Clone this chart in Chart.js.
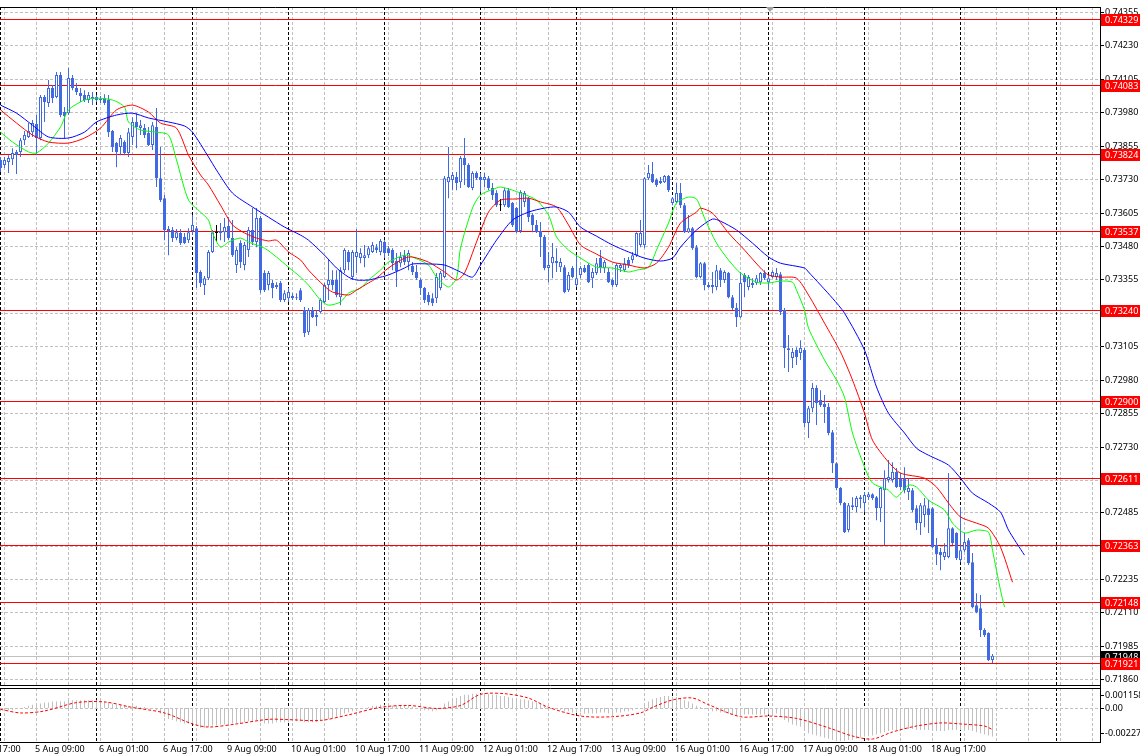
<!DOCTYPE html>
<html>
<head>
<meta charset="utf-8">
<script src="https://cdn.jsdelivr.net/npm/chart.js@4.4.1/dist/chart.umd.min.js"></script>
<style>
  html, body { margin: 0; padding: 0; background: #fff; }
  #wrap { position: relative; width: 1140px; height: 754px; overflow: hidden; background: #fff; }
  canvas { position: absolute; left: 0; }
  #price { top: 0; }
  #macd  { top: 686px; }
</style>
</head>
<body>
<div id="wrap">
  <canvas id="price" width="1140" height="686"></canvas>
  <canvas id="macd" width="1140" height="68"></canvas>
</div>
<script>
// AUDUSD H1, 5 Aug 00:00 .. 19 Aug 08:00 (bar index 0..248)

const open = [
  0.73802,0.73783,0.73794,0.73805,0.73832,0.73832,0.73876,0.73888,0.73906,0.73936,
  0.73884,0.74037,0.74015,0.74071,0.74037,0.74120,0.73981,0.73977,0.74108,0.74071,
  0.74052,0.74045,0.74026,0.74030,0.74037,0.74030,0.74033,0.74026,0.73910,0.73865,
  0.73850,0.73869,0.73828,0.73888,0.73944,0.73921,0.73921,0.73903,0.73858,0.73925,
  0.73734,0.73659,0.73536,0.73540,0.73510,0.73529,0.73514,0.73502,0.73536,0.73547,
  0.73383,0.73334,0.73360,0.73458,0.73529,0.73529,0.73532,0.73555,0.73510,0.73409,
  0.73491,0.73409,0.73465,0.73540,0.73495,0.73585,0.73379,0.73334,0.73342,0.73334,
  0.73342,0.73278,0.73285,0.73293,0.73285,0.73315,0.73241,0.73158,0.73241,0.73222,
  0.73233,0.73271,0.73334,0.73353,0.73353,0.73289,0.73390,0.73458,0.73364,0.73439,
  0.73435,0.73435,0.73446,0.73458,0.73476,0.73458,0.73495,0.73472,0.73465,0.73424,
  0.73416,0.73446,0.73420,0.73405,0.73383,0.73353,0.73323,0.73297,0.73285,0.73285,
  0.73323,0.73364,0.73719,0.73727,0.73738,0.73719,0.73809,0.73783,0.73697,0.73753,
  0.73738,0.73727,0.73734,0.73697,0.73678,0.73633,0.73633,0.73689,0.73641,0.73622,
  0.73536,0.73645,0.73659,0.73596,0.73559,0.73536,0.73514,0.73398,0.73416,0.73424,
  0.73401,0.73401,0.73315,0.73398,0.73334,0.73372,0.73398,0.73409,0.73360,0.73379,
  0.73435,0.73398,0.73383,0.73353,0.73334,0.73398,0.73390,0.73428,0.73428,0.73446,
  0.73484,0.73484,0.73734,0.73749,0.73727,0.73723,0.73719,0.73742,0.73641,0.73645,
  0.73678,0.73633,0.73532,0.73547,0.73476,0.73364,0.73416,0.73334,0.73334,0.73327,
  0.73390,0.73353,0.73379,0.73289,0.73248,0.73214,0.73372,0.73327,0.73342,0.73342,
  0.73345,0.73379,0.73345,0.73364,0.73364,0.73375,0.73241,0.73098,0.73061,0.73091,
  0.73080,0.73091,0.72818,0.72874,0.72949,0.72904,0.72889,0.72878,0.72784,0.72668,
  0.72575,0.72519,0.72418,0.72511,0.72504,0.72541,0.72519,0.72541,0.72552,0.72541,
  0.72500,0.72567,0.72605,0.72605,0.72635,0.72612,0.72612,0.72560,0.72567,0.72500,
  0.72444,0.72474,0.72500,0.72500,0.72362,0.72336,0.72317,0.72317,0.72425,0.72407,
  0.72306,0.72343,0.72380,0.72298,0.72137,0.72126,0.72044,0.72033,0.71932
]
const high = [
  0.73813,0.73813,0.73820,0.73846,0.73839,0.73884,0.73910,0.73940,0.73951,0.73970,
  0.74045,0.74045,0.74101,0.74082,0.74131,0.74131,0.74000,0.74146,0.74120,0.74090,
  0.74071,0.74063,0.74056,0.74056,0.74045,0.74041,0.74048,0.74045,0.73914,0.73869,
  0.73895,0.73876,0.73921,0.73962,0.73977,0.73951,0.73936,0.73925,0.73944,0.73996,
  0.73850,0.73671,0.73555,0.73551,0.73544,0.73544,0.73529,0.73547,0.73596,0.73555,
  0.73390,0.73368,0.73465,0.73540,0.73559,0.73566,0.73585,0.73588,0.73577,0.73476,
  0.73502,0.73495,0.73551,0.73622,0.73622,0.73592,0.73390,0.73387,0.73353,0.73345,
  0.73349,0.73315,0.73323,0.73304,0.73304,0.73323,0.73252,0.73248,0.73252,0.73241,
  0.73285,0.73342,0.73428,0.73390,0.73390,0.73401,0.73472,0.73465,0.73465,0.73544,
  0.73472,0.73484,0.73480,0.73495,0.73488,0.73506,0.73502,0.73480,0.73472,0.73454,
  0.73458,0.73465,0.73465,0.73420,0.73409,0.73360,0.73327,0.73308,0.73304,0.73379,
  0.73387,0.73742,0.73850,0.73757,0.73757,0.73817,0.73884,0.73790,0.73760,0.73760,
  0.73753,0.73753,0.73742,0.73716,0.73689,0.73656,0.73697,0.73697,0.73645,0.73626,
  0.73689,0.73686,0.73663,0.73603,0.73577,0.73570,0.73521,0.73458,0.73491,0.73472,
  0.73435,0.73409,0.73383,0.73405,0.73446,0.73405,0.73409,0.73416,0.73398,0.73435,
  0.73465,0.73428,0.73398,0.73360,0.73416,0.73416,0.73435,0.73439,0.73458,0.73532,
  0.73577,0.73738,0.73783,0.73794,0.73734,0.73738,0.73746,0.73746,0.73663,0.73716,
  0.73716,0.73641,0.73596,0.73551,0.73484,0.73420,0.73420,0.73345,0.73383,0.73409,
  0.73398,0.73390,0.73383,0.73297,0.73267,0.73383,0.73379,0.73372,0.73360,0.73372,
  0.73383,0.73390,0.73372,0.73390,0.73398,0.73383,0.73248,0.73147,0.73099,0.73102,
  0.73128,0.73099,0.72882,0.72968,0.72960,0.72941,0.72923,0.72893,0.72792,0.72672,
  0.72579,0.72523,0.72519,0.72541,0.72545,0.72549,0.72560,0.72560,0.72556,0.72545,
  0.72579,0.72642,0.72680,0.72672,0.72650,0.72631,0.72653,0.72612,0.72575,0.72511,
  0.72519,0.72538,0.72530,0.72504,0.72388,0.72351,0.72369,0.72631,0.72429,0.72410,
  0.72504,0.72407,0.72388,0.72332,0.72182,0.72175,0.72051,0.72036,0.71955
]
const low = [
  0.73757,0.73772,0.73753,0.73783,0.73749,0.73813,0.73858,0.73884,0.73888,0.73820,
  0.73876,0.73944,0.74000,0.74015,0.74033,0.73962,0.73884,0.73970,0.74063,0.74045,
  0.74019,0.74019,0.74015,0.74007,0.74019,0.74015,0.74007,0.73888,0.73832,0.73775,
  0.73820,0.73820,0.73813,0.73858,0.73846,0.73895,0.73884,0.73854,0.73839,0.73701,
  0.73645,0.73502,0.73446,0.73495,0.73502,0.73484,0.73488,0.73491,0.73521,0.73323,
  0.73327,0.73297,0.73353,0.73454,0.73495,0.73502,0.73495,0.73502,0.73439,0.73379,
  0.73398,0.73390,0.73439,0.73484,0.73476,0.73304,0.73308,0.73315,0.73285,0.73319,
  0.73271,0.73271,0.73271,0.73278,0.73278,0.73271,0.73140,0.73147,0.73211,0.73181,
  0.73229,0.73267,0.73278,0.73315,0.73289,0.73259,0.73379,0.73390,0.73353,0.73379,
  0.73416,0.73401,0.73435,0.73454,0.73454,0.73446,0.73435,0.73443,0.73390,0.73327,
  0.73401,0.73409,0.73390,0.73372,0.73353,0.73297,0.73267,0.73259,0.73256,0.73267,
  0.73315,0.73360,0.73659,0.73689,0.73689,0.73697,0.73708,0.73697,0.73689,0.73727,
  0.73682,0.73701,0.73689,0.73652,0.73626,0.73611,0.73626,0.73622,0.73551,0.73529,
  0.73529,0.73626,0.73570,0.73532,0.73529,0.73439,0.73390,0.73345,0.73360,0.73383,
  0.73383,0.73304,0.73308,0.73360,0.73327,0.73360,0.73379,0.73342,0.73323,0.73372,
  0.73379,0.73379,0.73342,0.73327,0.73327,0.73383,0.73383,0.73398,0.73416,0.73439,
  0.73476,0.73472,0.73727,0.73716,0.73701,0.73712,0.73716,0.73682,0.73633,0.73641,
  0.73622,0.73529,0.73529,0.73465,0.73360,0.73360,0.73315,0.73323,0.73304,0.73315,
  0.73327,0.73342,0.73285,0.73241,0.73177,0.73211,0.73289,0.73315,0.73323,0.73334,
  0.73334,0.73353,0.73315,0.73360,0.73353,0.73222,0.73024,0.73009,0.73024,0.73035,
  0.73054,0.72803,0.72762,0.72859,0.72811,0.72878,0.72818,0.72773,0.72631,0.72567,
  0.72511,0.72407,0.72410,0.72493,0.72485,0.72500,0.72485,0.72530,0.72530,0.72455,
  0.72448,0.72362,0.72596,0.72596,0.72575,0.72567,0.72556,0.72530,0.72485,0.72418,
  0.72400,0.72429,0.72407,0.72351,0.72287,0.72268,0.72306,0.72313,0.72362,0.72306,
  0.72298,0.72336,0.72287,0.72126,0.72107,0.72018,0.72018,0.71928,0.71921
]
const close = [
  0.73772,0.73802,0.73809,0.73828,0.73820,0.73876,0.73895,0.73910,0.73940,0.73884,
  0.74037,0.74019,0.74071,0.74033,0.74120,0.73970,0.73966,0.74108,0.74071,0.74056,
  0.74041,0.74026,0.74045,0.74037,0.74026,0.74026,0.74015,0.73906,0.73850,0.73832,
  0.73884,0.73828,0.73906,0.73944,0.73925,0.73932,0.73895,0.73858,0.73932,0.73734,
  0.73652,0.73540,0.73544,0.73510,0.73532,0.73491,0.73491,0.73532,0.73559,0.73379,
  0.73342,0.73360,0.73458,0.73532,0.73529,0.73536,0.73551,0.73510,0.73446,0.73465,
  0.73420,0.73484,0.73540,0.73495,0.73585,0.73315,0.73315,0.73379,0.73323,0.73327,
  0.73278,0.73304,0.73308,0.73285,0.73289,0.73278,0.73155,0.73241,0.73214,0.73214,
  0.73278,0.73334,0.73353,0.73334,0.73297,0.73390,0.73465,0.73420,0.73458,0.73458,
  0.73454,0.73446,0.73472,0.73484,0.73465,0.73499,0.73454,0.73454,0.73416,0.73387,
  0.73439,0.73420,0.73454,0.73383,0.73360,0.73323,0.73278,0.73271,0.73267,0.73364,
  0.73379,0.73734,0.73738,0.73746,0.73716,0.73809,0.73783,0.73701,0.73753,0.73734,
  0.73727,0.73738,0.73697,0.73671,0.73633,0.73633,0.73689,0.73626,0.73559,0.73532,
  0.73682,0.73678,0.73588,0.73559,0.73532,0.73514,0.73398,0.73409,0.73439,0.73416,
  0.73420,0.73308,0.73372,0.73364,0.73360,0.73398,0.73383,0.73345,0.73383,0.73416,
  0.73398,0.73420,0.73345,0.73334,0.73409,0.73409,0.73416,0.73409,0.73446,0.73529,
  0.73529,0.73734,0.73753,0.73719,0.73708,0.73716,0.73742,0.73689,0.73659,0.73678,
  0.73633,0.73532,0.73547,0.73472,0.73364,0.73416,0.73334,0.73327,0.73327,0.73390,
  0.73353,0.73383,0.73289,0.73248,0.73214,0.73342,0.73345,0.73364,0.73334,0.73360,
  0.73379,0.73360,0.73360,0.73383,0.73379,0.73233,0.73098,0.73091,0.73084,0.73065,
  0.73099,0.72818,0.72874,0.72949,0.72893,0.72885,0.72878,0.72781,0.72668,0.72575,
  0.72519,0.72410,0.72511,0.72504,0.72538,0.72534,0.72549,0.72552,0.72538,0.72500,
  0.72575,0.72612,0.72616,0.72635,0.72579,0.72579,0.72567,0.72575,0.72493,0.72444,
  0.72511,0.72511,0.72474,0.72354,0.72328,0.72324,0.72336,0.72425,0.72369,0.72313,
  0.72343,0.72373,0.72294,0.72130,0.72111,0.72044,0.72025,0.71932,0.71948
]

// Alligator lines, [bar, price] (shifted 8 / 5 / 3 bars forward)
const jaw = [
  [0,0.74007],[4,0.73977],[8,0.73932],[12,0.73888],[17,0.73884],[21,0.73906],[24,0.73944],
  [29,0.73970],[33,0.73977],[37,0.73959],[42,0.73944],[46,0.73929],[48,0.73906],[52,0.73813],
  [54,0.73764],[58,0.73678],[63,0.73626],[67,0.73588],[71,0.73551],[75,0.73521],[77,0.73502],
  [81,0.73446],[84,0.73398],[87,0.73364],[89,0.73353],[92,0.73353],[94,0.73360],[97,0.73372],
  [101,0.73398],[103,0.73413],[107,0.73413],[111,0.73409],[115,0.73383],[118,0.73364],
  [120,0.73409],[124,0.73502],[128,0.73577],[132,0.73607],[136,0.73622],[139,0.73626],
  [142,0.73607],[145,0.73551],[149,0.73517],[153,0.73484],[157,0.73458],[161,0.73435],
  [165,0.73424],[168,0.73435],[170,0.73476],[174,0.73540],[178,0.73581],[180,0.73573],
  [184,0.73540],[188,0.73491],[192,0.73439],[195,0.73416],[201,0.73398],[202,0.73383],
  [208,0.73285],[211,0.73229],[216,0.73091],[219,0.72953],[222,0.72855],[226,0.72781],
  [229,0.72724],[232,0.72698],[237,0.72661],[240,0.72612],[243,0.72556],[247,0.72519],
  [250,0.72485],[252,0.72418],[256,0.72324]
]
const teeth = [
  [0,0.73989],[4,0.73940],[8,0.73895],[12,0.73869],[17,0.73865],[21,0.73884],[25,0.73921],
  [29,0.73989],[33,0.74007],[37,0.73981],[40,0.73940],[44,0.73921],[47,0.73820],[50,0.73746],
  [52,0.73708],[55,0.73633],[58,0.73559],[61,0.73529],[64,0.73510],[67,0.73499],[69,0.73502],
  [72,0.73458],[75,0.73428],[77,0.73390],[81,0.73330],[83,0.73308],[87,0.73297],[89,0.73315],
  [92,0.73342],[94,0.73360],[97,0.73398],[101,0.73435],[103,0.73439],[107,0.73420],
  [111,0.73383],[114,0.73353],[116,0.73379],[119,0.73495],[122,0.73607],[125,0.73652],
  [129,0.73656],[132,0.73659],[135,0.73645],[139,0.73626],[142,0.73559],[145,0.73484],
  [149,0.73450],[153,0.73420],[157,0.73409],[161,0.73398],[164,0.73416],[167,0.73476],
  [170,0.73566],[174,0.73607],[175,0.73622],[178,0.73603],[182,0.73529],[186,0.73465],
  [190,0.73398],[192,0.73372],[195,0.73364],[199,0.73360],[202,0.73297],[206,0.73192],
  [210,0.73084],[213,0.72979],[216,0.72855],[218,0.72754],[222,0.72672],[225,0.72631],
  [231,0.72612],[234,0.72579],[237,0.72519],[240,0.72467],[244,0.72444],[247,0.72425],
  [250,0.72354],[253,0.72223]
]
const lips = [
  [0,0.73906],[3,0.73869],[7,0.73832],[9,0.73828],[12,0.73865],[15,0.73925],[17,0.73989],
  [21,0.74026],[24,0.74033],[28,0.74026],[31,0.74000],[32,0.73944],[35,0.73914],[39,0.73906],
  [42,0.73895],[44,0.73802],[47,0.73652],[50,0.73607],[52,0.73577],[53,0.73529],[55,0.73476],
  [57,0.73495],[60,0.73510],[62,0.73495],[66,0.73472],[69,0.73439],[72,0.73401],[75,0.73364],
  [77,0.73334],[80,0.73278],[82,0.73259],[85,0.73271],[87,0.73304],[90,0.73323],[92,0.73353],
  [95,0.73390],[97,0.73420],[101,0.73446],[103,0.73439],[107,0.73409],[109,0.73364],
  [112,0.73327],[114,0.73360],[115,0.73472],[118,0.73622],[120,0.73671],[124,0.73697],
  [125,0.73701],[128,0.73689],[130,0.73678],[134,0.73652],[137,0.73596],[139,0.73514],
  [142,0.73465],[145,0.73435],[149,0.73401],[153,0.73398],[157,0.73383],[159,0.73390],
  [162,0.73401],[164,0.73465],[167,0.73566],[169,0.73641],[172,0.73663],[174,0.73656],
  [176,0.73585],[179,0.73491],[182,0.73428],[185,0.73379],[189,0.73345],[192,0.73342],
  [195,0.73349],[198,0.73345],[199,0.73315],[201,0.73241],[202,0.73173],[206,0.73054],
  [209,0.72979],[211,0.72915],[213,0.72781],[216,0.72654],[218,0.72594],[222,0.72567],
  [224,0.72541],[227,0.72586],[229,0.72579],[232,0.72530],[236,0.72493],[238,0.72444],
  [241,0.72407],[244,0.72418],[247,0.72410],[248,0.72343],[250,0.72193],[251,0.72130]
]

// MACD panel: histogram per bar, signal line [bar, value]
const macdHist = [
  -0.0003,-0.0003,-0.0002,-0.0002,-0.0001,0,0.0001,0.0002,0.0003,0.0003,
  0.0004,0.0005,0.0005,0.0006,0.0006,0.0006,0.0006,0.0007,0.0007,0.0007,
  0.0007,0.0007,0.0007,0.0007,0.0007,0.0006,0.0006,0.0005,0.0004,0.0003,
  0.0003,0.0002,0.0002,0.0002,0.0002,0.0001,0.0001,0,0,-0.0002,
  -0.0005,-0.0008,-0.0010,-0.0011,-0.0012,-0.0013,-0.0014,-0.0014,-0.0014,-0.0016,
  -0.0018,-0.0018,-0.0017,-0.0016,-0.0016,-0.0015,-0.0015,-0.0014,-0.0014,-0.0014,
  -0.0014,-0.0013,-0.0012,-0.0012,-0.0011,-0.0013,-0.0014,-0.0014,-0.0014,-0.0013,
  -0.0013,-0.0013,-0.0013,-0.0012,-0.0012,-0.0012,-0.0013,-0.0013,-0.0013,-0.0013,
  -0.0012,-0.0011,-0.0010,-0.0009,-0.0008,-0.0007,-0.0005,-0.0004,-0.0003,-0.0002,
  -0.0001,0,0.0001,0.0002,0.0002,0.0003,0.0003,0.0003,0.0002,0.0002,
  0.0002,0.0002,0.0002,0.0001,0,-0.0001,-0.0002,-0.0002,-0.0003,-0.0002,
  -0.0001,0.0004,0.0006,0.0008,0.0009,0.0011,0.0012,0.0012,0.0013,0.0013,
  0.0013,0.0013,0.0013,0.0012,0.0012,0.0011,0.0011,0.0010,0.0009,0.0008,
  0.0008,0.0008,0.0007,0.0006,0.0005,0.0004,0.0002,0.0001,0,-0.0001,
  -0.0002,-0.0003,-0.0003,-0.0004,-0.0004,-0.0004,-0.0005,-0.0005,-0.0005,-0.0005,
  -0.0004,-0.0004,-0.0005,-0.0005,-0.0004,-0.0004,-0.0003,-0.0003,-0.0002,-0.0001,
  0,0.0004,0.0006,0.0008,0.0009,0.0010,0.0011,0.0011,0.0010,0.0010,
  0.0009,0.0007,0.0006,0.0004,0.0002,0.0001,-0.0001,-0.0002,-0.0003,-0.0003,
  -0.0004,-0.0004,-0.0005,-0.0006,-0.0007,-0.0006,-0.0006,-0.0006,-0.0006,-0.0006,
  -0.0006,-0.0006,-0.0006,-0.0005,-0.0005,-0.0008,-0.0011,-0.0013,-0.0015,-0.0016,
  -0.0017,-0.0021,-0.0023,-0.0024,-0.0025,-0.0026,-0.0027,-0.0028,-0.0029,-0.0030,
  -0.0030,-0.0030,-0.0029,-0.0029,-0.0028,-0.0027,-0.0026,-0.0025,-0.0025,-0.0024,
  -0.0023,-0.0022,-0.0021,-0.0020,-0.0020,-0.0019,-0.0019,-0.0019,-0.0019,-0.0020,
  -0.0020,-0.0020,-0.0020,-0.0021,-0.0021,-0.0021,-0.0021,-0.0020,-0.0020,-0.0020,
  -0.0020,-0.0020,-0.0020,-0.0021,-0.0022,-0.0023,-0.0024,-0.0025,-0.0026
]
const macdSignal = [
  [0,-0.00012],[5,-0.00045],[11,-0.00027],[19,0.00049],[26,0.00055],[33,0.00005],[41,-0.00045],
  [48,-0.00145],[52,-0.00173],[59,-0.00145],[67,-0.00103],[72,-0.00106],[80,-0.00113],
  [87,-0.00062],[95,0.00006],[102,0.00023],[109,-0.00004],[115,0.00023],[120,0.00124],
  [126,0.00130],[132,0.00090],[137,0.00006],[145,-0.00073],[153,-0.00079],[160,-0.00045],
  [163,0.00006],[168,0.00073],[173,0.00091],[177,0.00030],[185,-0.00079],[192,-0.00073],
  [199,-0.00095],[207,-0.00180],[213,-0.00255],[218,-0.00282],[223,-0.00218],[229,-0.00164],
  [235,-0.00136],[240,-0.00145],[246,-0.00164],[248,-0.00196]
]

// axes and objects
const priceTicks = [0.74355,0.74230,0.74105,0.73980,0.73855,0.73730,0.73605,0.73480,0.73355,0.73230,
  0.73105,0.72980,0.72855,0.72730,0.72605,0.72485,0.72360,0.72235,0.72110,0.71985,0.71860]
const levelPrices = [0.74329,0.74083,0.73824,0.73537,0.73240,0.72900,0.72611,0.72363,0.72148,0.71921]
const bidPrice = 0.71948
const macdTicks = [0.001158, 0, -0.00227]
const macdTickLabels = ["0.001158", "0.00", "-0.00227"]
const timeLabels = ["4 Aug 17:00","5 Aug 09:00","6 Aug 01:00","6 Aug 17:00","9 Aug 09:00","10 Aug 01:00",
  "10 Aug 17:00","11 Aug 09:00","12 Aug 01:00","12 Aug 17:00","13 Aug 09:00","16 Aug 01:00",
  "16 Aug 17:00","17 Aug 09:00","18 Aug 01:00","18 Aug 17:00"]
const timeLabelBars = [-7,9,25,41,57,73,89,105,121,137,153,169,185,201,217,233]

const BLUE  = "#4169e1"
const GRID  = "#c0c0c0"
const FONT  = "9px 'Noto Sans', 'Liberation Sans', sans-serif"
const X_MIN = -0.125, X_MAX = 274.875

const dayStarts = []
for (let i = 0; i <= X_MAX; i += 24) dayStarts.push(i)
const gridBars = []
for (let i = 1; i <= X_MAX; i += 8) gridBars.push(i)

const bodyFill = open.map((o, i) => close[i] > o ? "#ffffff" : close[i] < o ? BLUE : "#000000")
const candleInk = open.map((o, i) => close[i] === o ? "#000000" : BLUE)

function hLine(ctx, x1, x2, y) {
  ctx.beginPath(); ctx.moveTo(x1, y); ctx.lineTo(x2, y); ctx.stroke()
}
function vLine(ctx, x, y1, y2) {
  ctx.beginPath(); ctx.moveTo(x, y1); ctx.lineTo(x, y2); ctx.stroke()
}

// period separators + dashed grid, shared by both panels
function drawVerticalGrid(chart) {
  const { ctx, chartArea: a, scales: { x } } = chart
  ctx.setLineDash([3, 2])
  ctx.strokeStyle = GRID
  gridBars.forEach(i => vLine(ctx, Math.floor(x.getPixelForValue(i)) + 0.5, a.top, a.bottom))
  ctx.strokeStyle = "#000"
  dayStarts.forEach(i => vLine(ctx, Math.floor(x.getPixelForValue(i)) + 0.5, a.top, a.bottom))
  ctx.setLineDash([])
}

const priceDecor = {
  id: "priceDecor",
  beforeDatasetsDraw(chart) {
    const { ctx, chartArea: a, scales: { y } } = chart
    ctx.save()
    ctx.lineWidth = 1
    ctx.setLineDash([3, 2])
    ctx.strokeStyle = GRID
    priceTicks.forEach(v => hLine(ctx, a.left, a.right, Math.round(y.getPixelForValue(v)) + 0.5))
    drawVerticalGrid(chart)
    ctx.strokeStyle = "#c0c0c0"
    hLine(ctx, a.left, a.right, Math.round(y.getPixelForValue(bidPrice)) + 0.5)
    ctx.strokeStyle = "#ff0000"
    levelPrices.forEach(v => hLine(ctx, a.left, a.right + 1, Math.round(y.getPixelForValue(v)) + 0.5))
    ctx.restore()
  },
  afterDraw(chart) {
    const { ctx, chartArea: a, scales: { y } } = chart
    ctx.save()
    ctx.fillStyle = "#fff"
    ctx.fillRect(a.right + 1, 0, chart.width - a.right, chart.height)
    ctx.strokeStyle = "#000"
    ctx.lineWidth = 1
    hLine(ctx, 0, a.right + 1, a.top + 0.5)
    hLine(ctx, 0, a.right + 1, a.bottom + 0.5)
    vLine(ctx, a.right + 0.5, a.top, a.bottom + 1)

    ctx.font = FONT
    ctx.textBaseline = "middle"
    ctx.fillStyle = "#000"
    priceTicks.forEach(v => {
      const py = Math.round(y.getPixelForValue(v))
      hLine(ctx, a.right + 1, a.right + 4, py + 0.5)
      ctx.fillText(v.toFixed(5), a.right + 5, py + 0.5)
    })
    const tag = (v, bg) => {
      const py = Math.round(y.getPixelForValue(v))
      ctx.fillStyle = bg
      ctx.fillRect(a.right + 1, py - 5, chart.width - a.right, 12)
      ctx.fillStyle = "#fff"
      ctx.fillText(v.toFixed(5), a.right + 5, py + 1)
    }
    tag(bidPrice, "#000")
    levelPrices.forEach(v => tag(v, "#ff0000"))

    // chart shift marker
    const sx = 770
    ctx.fillStyle = "#a0a0a0"
    ctx.beginPath(); ctx.moveTo(sx - 4, a.top); ctx.lineTo(sx + 4, a.top); ctx.lineTo(sx, a.top + 5); ctx.fill()
    ctx.restore()
  }
}

const macdDecor = {
  id: "macdDecor",
  beforeDatasetsDraw(chart) {
    const { ctx, chartArea: a, scales: { y } } = chart
    ctx.save()
    ctx.lineWidth = 1
    drawVerticalGrid(chart)
    ctx.setLineDash([3, 2])
    ctx.strokeStyle = GRID
    hLine(ctx, a.left, a.right, Math.round(y.getPixelForValue(0)) + 0.5)
    ctx.restore()
  },
  afterDraw(chart) {
    const { ctx, chartArea: a, scales: { x, y } } = chart
    ctx.save()
    ctx.fillStyle = "#fff"
    ctx.fillRect(a.right + 1, 0, chart.width - a.right, chart.height)
    ctx.fillRect(0, a.bottom + 1, chart.width, chart.height - a.bottom)
    ctx.strokeStyle = "#000"
    ctx.lineWidth = 1
    hLine(ctx, 0, a.right + 1, a.top + 0.5)
    hLine(ctx, 0, a.right + 1, a.bottom + 0.5)
    vLine(ctx, a.right + 0.5, 0, a.bottom + 1)
    ctx.font = FONT
    ctx.textBaseline = "middle"
    ctx.fillStyle = "#000"
    macdTicks.forEach((v, k) => {
      const py = Math.round(y.getPixelForValue(v))
      hLine(ctx, a.right + 1, a.right + 4, py + 0.5)
      ctx.fillText(macdTickLabels[k], a.right + 5, py + 0.5)
    })
    timeLabels.forEach((t, k) => {
      const px = x.getPixelForValue(timeLabelBars[k])
      ctx.fillText(t, px - 1.5, a.bottom + 7)
    })
    ctx.restore()
  }
}

const baseOptions = (padding, yMin, yMax) => ({
  responsive: false,
  animation: false,
  events: [],
  layout: { padding },
  plugins: { legend: { display: false }, tooltip: { enabled: false } },
  scales: {
    x: { type: "linear", min: X_MIN, max: X_MAX, offset: false, display: false },
    y: { min: yMin, max: yMax, display: false }
  }
})

const alligator = (pts, color) => ({
  type: "line",
  data: pts.map(([i, v]) => ({ x: i, y: v })),
  borderColor: color,
  borderWidth: 1,
  pointRadius: 0,
  tension: 0.25,
  order: 1
})

new Chart(document.getElementById("price"), {
  type: "bar",
  data: {
    datasets: [
      {
        data: open.map((o, i) => ({ x: i, y: [low[i], high[i]] })),
        backgroundColor: candleInk,
        barThickness: 1, maxBarThickness: 1,
        grouped: false, inflateAmount: 0, order: 3
      },
      {
        data: open.map((o, i) => ({ x: i, y: [o, close[i]] })),
        backgroundColor: bodyFill,
        borderColor: candleInk,
        borderWidth: 1, borderSkipped: false, minBarLength: 1,
        barThickness: 3, maxBarThickness: 3,
        grouped: false, inflateAmount: 0, order: 2
      },
      alligator(jaw, "#0000ff"),
      alligator(teeth, "#ff0000"),
      alligator(lips, "#00ff00")
    ]
  },
  options: baseOptions({ left: 0, right: 40, top: 7, bottom: 1 }, 0.718387, 0.743739),
  plugins: [priceDecor]
})

new Chart(document.getElementById("macd"), {
  type: "bar",
  data: {
    datasets: [
      {
        type: "line",
        data: macdSignal.map(([i, v]) => ({ x: i, y: v })),
        borderColor: "#ff0000",
        borderWidth: 1,
        borderDash: [3, 2],
        pointRadius: 0,
        tension: 0.3,
        order: 1
      },
      {
        data: macdHist.map((v, i) => ({ x: i, y: v })),
        backgroundColor: GRID,
        barThickness: 1, maxBarThickness: 1,
        grouped: false, inflateAmount: 0, order: 2
      }
    ]
  },
  options: baseOptions({ left: 0, right: 40, top: 2, bottom: 12 }, -0.0030909, 0.0018182),
  plugins: [macdDecor]
})
</script>
</body>
</html>
